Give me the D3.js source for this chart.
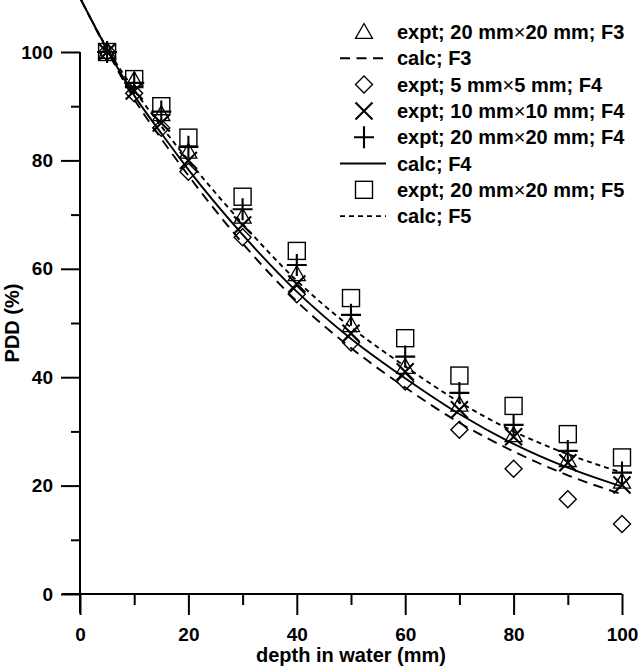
<!DOCTYPE html>
<html>
<head>
<meta charset="utf-8">
<script src="https://cdn.jsdelivr.net/npm/d3@7"></script>
<style>
  html, body { margin: 0; padding: 0; background: #fff; }
  svg { display: block; }
  text { font-family: "Liberation Sans", Arial, sans-serif; font-weight: bold; fill: #000; }
</style>
</head>
<body>
<svg id="chart" width="640" height="666"></svg>
<script>
// ---- data ----
const depths = [5, 10, 15, 20, 30, 40, 50, 60, 70, 80, 90, 100];
const exptF3_20 = [100, 94.8, 88.5, 81.6, 69.6, 59.0, 49.6, 41.9, 34.9, 29.3, 24.7, 20.7];
const exptF4_5  = [100, 92.4, 86.0, 77.9, 65.8, 55.3, 46.4, 39.2, 30.3, 23.1, 17.5, 12.9];
const exptF4_10 = [100, 92.8, 86.9, 80.0, 68.1, 57.2, 48.1, 41.0, 34.0, 29.0, 24.2, 20.1];
const exptF4_20 = [100, 94.3, 89.0, 82.5, 71.0, 60.7, 51.5, 43.8, 37.1, 31.2, 26.4, 22.4];
const exptF5_20 = [100, 95.0, 90.0, 84.2, 73.3, 63.3, 54.6, 47.2, 40.3, 34.7, 29.5, 25.2];

const calcDepths = [0, 5, 10, 15, 20, 30, 40, 50, 60, 70, 80, 90, 100];
const calcF3 = [110, 100.3, 91.3, 84.0, 77.2, 64.7, 54.0, 45.4, 38.1, 31.6, 26.3, 21.9, 18.4];
const calcF4 = [110, 100.5, 92.0, 85.0, 78.3, 66.3, 55.8, 47.1, 39.8, 33.2, 27.7, 23.3, 19.8];
const calcF5 = [110, 100.7, 93.0, 86.3, 80.0, 68.3, 57.8, 49.2, 42.0, 35.4, 30.0, 25.8, 22.4];

const xTicks = [0, 20, 40, 60, 80, 100];
const xMinor = [10, 30, 50, 70, 90];
const yTicks = [0, 20, 40, 60, 80, 100];
const yMinor = [10, 30, 50, 70, 90];

const legendLabels = [
  ["expt; 20 mm", "20 mm; F3"],
  ["calc; F3"],
  ["expt; 5 mm", "5 mm; F4"],
  ["expt; 10 mm", "10 mm; F4"],
  ["expt; 20 mm", "20 mm; F4"],
  ["calc; F4"],
  ["expt; 20 mm", "20 mm; F5"],
  ["calc; F5"]
];
const legendKinds = ["triangle", "dashLong", "diamond", "cross", "plus", "solid", "square", "dashShort"];

// ---- layout ----
const svg = d3.select("#chart");
const x = d3.scaleLinear().domain([0, 100]).range([80, 622]);
const y = d3.scaleLinear().domain([0, 100]).range([594, 52]);

const axisG = svg.append("g");
// Y axis
const yAx = axisG.append("g").attr("transform", `translate(${x(0)},0)`)
  .call(d3.axisLeft(y).tickValues(yTicks).tickSize(19).tickSizeOuter(0).tickPadding(8).tickFormat(d3.format("d")));
yAx.append("g").call(d3.axisLeft(y).tickValues(yMinor).tickSize(9).tickSizeOuter(0).tickFormat(""))
  .select(".domain").remove();
// X axis
const xAx = axisG.append("g").attr("transform", `translate(0,${y(0)})`)
  .call(d3.axisBottom(x).tickValues(xTicks).tickSize(21).tickSizeOuter(0).tickPadding(13).tickFormat(d3.format("d")));
xAx.append("g").call(d3.axisBottom(x).tickValues(xMinor).tickSize(11).tickSizeOuter(0).tickFormat(""))
  .select(".domain").remove();

axisG.selectAll(".domain").remove();
axisG.selectAll("g").attr("font-size", 19).attr("font-family", "Liberation Sans, Arial, sans-serif");
axisG.selectAll("line").attr("stroke", "#000").attr("stroke-width", 2);
axisG.selectAll(".tick text").style("font-size", "19px").style("font-weight", "bold");
// axis lines (crossing at origin)
axisG.append("line").attr("x1", x(0)).attr("x2", x(0)).attr("y1", y(100)).attr("y2", y(0) + 19)
  .attr("stroke", "#000").attr("stroke-width", 2);
axisG.append("line").attr("x1", x(0) - 18).attr("x2", x(100)).attr("y1", y(0)).attr("y2", y(0))
  .attr("stroke", "#000").attr("stroke-width", 2);

// titles
svg.append("text").attr("x", (x(0) + x(100)) / 2).attr("y", 662).attr("text-anchor", "middle")
  .style("font-size", "20px").text("depth in water (mm)");
svg.append("text").attr("transform", `translate(19,${(y(0) + y(100)) / 2}) rotate(-90)`).attr("text-anchor", "middle")
  .style("font-size", "20px").text("PDD (%)");

// ---- curves ----
const line = d3.line().x((d, i) => x(calcDepths[i])).y(d => y(d)).curve(d3.curveMonotoneX);
const curves = [
  { vals: calcF3, dash: "10,6.5" },
  { vals: calcF4, dash: null },
  { vals: calcF5, dash: "5,4" }
];
curves.forEach(c => {
  svg.append("path").attr("d", line(c.vals)).attr("fill", "none").attr("stroke", "#000")
    .attr("stroke-width", 1.9).attr("stroke-dasharray", c.dash);
});

// ---- markers ----
function marker(g, kind, cx, cy) {
  const s = 8.5;
  if (kind === "triangle") {
    g.append("path").attr("d", `M${cx},${cy - s} L${cx + s},${cy + s * 0.75} L${cx - s},${cy + s * 0.75} Z`)
      .attr("fill", "none").attr("stroke", "#000").attr("stroke-width", 1.3);
  } else if (kind === "diamond") {
    g.append("path").attr("d", `M${cx},${cy - s} L${cx + s},${cy} L${cx},${cy + s} L${cx - s},${cy} Z`)
      .attr("fill", "none").attr("stroke", "#000").attr("stroke-width", 1.4);
  } else if (kind === "cross") {
    g.append("path").attr("d", `M${cx - s},${cy - s} L${cx + s},${cy + s} M${cx + s},${cy - s} L${cx - s},${cy + s}`)
      .attr("fill", "none").attr("stroke", "#000").attr("stroke-width", 2.1);
  } else if (kind === "plus") {
    const p = 10;
    g.append("path").attr("d", `M${cx - p},${cy} L${cx + p},${cy} M${cx},${cy - p - 1} L${cx},${cy + p + 1}`)
      .attr("fill", "none").attr("stroke", "#000").attr("stroke-width", 2.1);
  } else if (kind === "square") {
    g.append("rect").attr("x", cx - s).attr("y", cy - s).attr("width", 2 * s).attr("height", 2 * s)
      .attr("fill", "none").attr("stroke", "#000").attr("stroke-width", 1.4);
  }
}
const series = [
  { vals: exptF3_20, kind: "triangle" },
  { vals: exptF4_5, kind: "diamond" },
  { vals: exptF4_10, kind: "cross" },
  { vals: exptF4_20, kind: "plus" },
  { vals: exptF5_20, kind: "square" }
];
const mg = svg.append("g");
series.forEach(sr => {
  sr.vals.forEach((v, i) => marker(mg, sr.kind, x(depths[i]), y(v)));
});

// ---- legend ----
const lg = svg.append("g");
legendLabels.forEach((lab, i) => {
  const cy = 32 + i * 26.3;
  const kind = legendKinds[i];
  if (kind === "solid" || kind === "dashLong" || kind === "dashShort") {
    lg.append("line").attr("x1", 340).attr("x2", 386).attr("y1", cy).attr("y2", cy)
      .attr("stroke", "#000").attr("stroke-width", 1.9)
      .attr("stroke-dasharray", kind === "dashLong" ? "10,6.5" : kind === "dashShort" ? "5,4" : null);
  } else {
    marker(lg, kind, 364, cy);
  }
  const t = lg.append("text").attr("x", 397).attr("y", cy + 7).style("font-size", "20px");
  if (lab.length === 2) {
    t.append("tspan").text(lab[0]);
    t.append("tspan").style("font-weight", "normal").text("\u00D7");
    t.append("tspan").text(lab[1]);
  } else {
    t.text(lab[0]);
  }
});
</script>
</body>
</html>
